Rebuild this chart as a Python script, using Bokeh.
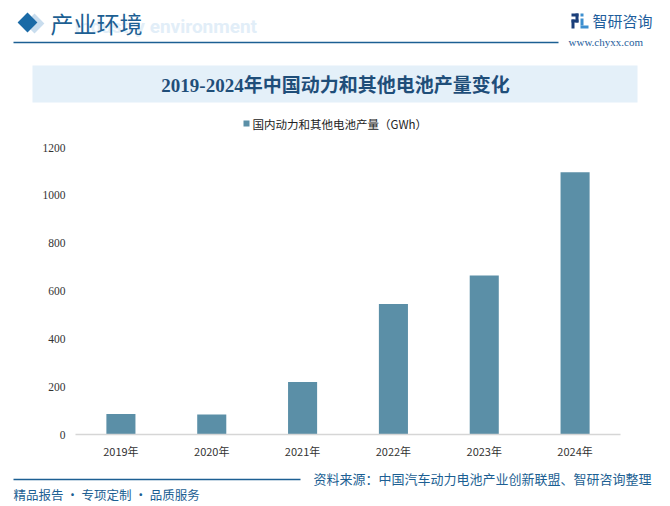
import math
from bokeh.plotting import figure
from bokeh.layouts import column
from bokeh.models import Range1d, FactorRange, FixedTicker
from bokeh.core.properties import value
from bokeh.embed import file_html
from bokeh.resources import INLINE

# ---- data ----
years = ["2019年", "2020年", "2021年", "2022年", "2023年", "2024年"]
output_gwh = [85.4, 83.4, 219.7, 545.9, 665.0, 1096.2]
y_ticks = [0, 200, 400, 600, 800, 1000, 1200]
section_title = "产业环境"
section_en = "Industry environment"
chart_title = "2019-2024年中国动力和其他电池产量变化"
series_name = "国内动力和其他电池产量（GWh）"
source_note = "资料来源：中国汽车动力电池产业创新联盟、智研咨询整理"
slogan = "精品报告 · 专项定制 · 品质服务"
brand = "智研咨询"
site = "www.chyxx.com"

BAR = "#5B8FA7"
NAVY = "#1C5F93"
CJK = "Noto Sans CJK SC"
W = 670


def no_align(fig):
    try:
        fig.frame_align = False
    except Exception:
        pass


def deco(h, y0):
    p = figure(width=W, height=h, x_range=Range1d(0, W), y_range=Range1d(y0 + h, y0),
               output_backend="svg", toolbar_location=None, min_border=0,
               x_axis_location=None, y_axis_location=None)
    p.outline_line_color = None
    p.grid.visible = False
    p.background_fill_color = "white"
    p.border_fill_color = "white"
    no_align(p)
    return p


# ---- header ----
hdr = deco(139, 0)
hdr.scatter(x=[34], y=[23], marker="square", size=14, angle=math.pi / 4,
            color="#C9DDEE", line_color=None)
hdr.scatter(x=[27], y=[22], marker="square", size=14, angle=math.pi / 4,
            color="#1A6AA6", line_color=None)
hdr.text(x=[74], y=[26], text=[section_en], text_font=value("Roboto"), text_font_size="19px",
         text_font_style="bold", text_color="#E2EEF8", text_baseline="middle", text_align="left")
hdr.text(x=[50], y=[22], text=[section_title], text_font=value(CJK), text_font_size="23px",
         text_color=NAVY, text_baseline="middle", text_align="left")
hdr.segment(x0=[13], y0=[42], x1=[558], y1=[42], line_color=NAVY, line_width=1.5)
# logo icon
hdr.quad(left=[571, 575, 571, 571], right=[578, 578, 578, 574], top=[13, 13, 19, 19],
         bottom=[16, 22, 22, 28], color="#1B3F7A", line_color=None)
hdr.quad(left=[580, 580, 580], right=[583, 583, 588], top=[13, 18, 25],
         bottom=[16, 25, 28], color="#3D8FD0", line_color=None)
hdr.text(x=[592], y=[20], text=[brand], text_font=value(CJK), text_font_size="15px",
         text_color="#1F5E9C", text_baseline="middle", text_align="left")
hdr.text(x=[568], y=[41], text=[site], text_font=value("Liberation Serif"), text_font_size="11px",
         text_color="#1F5E9C", text_baseline="middle", text_align="left")
# title box
hdr.quad(left=[32], right=[637], top=[65], bottom=[102], color="#E4F0F9", line_color=None)
hdr.text(x=[335], y=[85], text=[chart_title], text_font=value("Liberation Serif, Noto Sans CJK SC"),
         text_font_size="19px", text_font_style="bold", text_color="#1F4E79",
         text_baseline="middle", text_align="center")
# legend
hdr.quad(left=[243], right=[249], top=[120], bottom=[126], color=BAR, line_color=None)
hdr.text(x=[252], y=[123], text=[series_name], text_font=value(CJK), text_font_size="11.5px",
         text_color="#222222", text_baseline="middle", text_align="left")

# ---- chart ----
p = figure(width=W, height=323, x_range=FactorRange(factors=years), y_range=Range1d(0, 1200),
           output_backend="svg", toolbar_location=None,
           min_border_left=75, min_border_right=50, min_border_top=8, min_border_bottom=28)
p.outline_line_color = None
p.grid.visible = False
p.border_fill_color = "white"
no_align(p)
p.vbar(x=years, top=output_gwh, width=0.32, color=BAR, line_color=None)

p.yaxis.ticker = FixedTicker(ticks=y_ticks)
p.yaxis.axis_line_color = None
p.yaxis.major_tick_line_color = None
p.yaxis.minor_tick_line_color = None
p.yaxis.major_tick_out = 0
p.yaxis.major_label_standoff = 10
p.yaxis.major_label_text_font = "Liberation Serif"
p.yaxis.major_label_text_font_size = "11.5px"
p.yaxis.major_label_text_color = "#333333"

p.xaxis.axis_line_color = "#D6D6D6"
p.xaxis.axis_line_width = 1.5
p.xaxis.major_tick_line_color = None
p.xaxis.minor_tick_line_color = None
p.xaxis.major_tick_out = 0
p.xaxis.major_label_standoff = 8
p.xaxis.major_label_text_font = CJK
p.xaxis.major_label_text_font_size = "11px"
p.xaxis.major_label_text_color = "#333333"

# ---- footer ----
ftr = deco(44, 462)
ftr.segment(x0=[13], y0=[479], x1=[300], y1=[479], line_color=NAVY, line_width=1.5)
ftr.text(x=[313], y=[478], text=[source_note], text_font=value(CJK), text_font_size="13px",
         text_color=NAVY, text_baseline="middle", text_align="left")
ftr.text(x=[13], y=[494], text=[slogan], text_font=value(CJK), text_font_size="12.5px",
         text_color=NAVY, text_baseline="middle", text_align="left")

layout = column(hdr, p, ftr, spacing=0)
open("out.html", "w").write(file_html(layout, INLINE))
